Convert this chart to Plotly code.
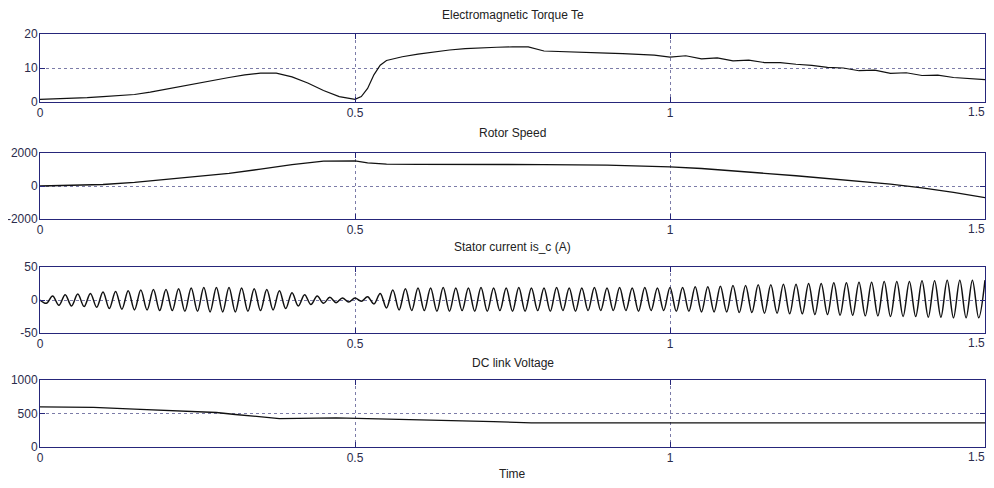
import plotly.graph_objects as go

# ---------------- data ----------------
torque_t = [0, 0.025, 0.05, 0.075, 0.1, 0.125, 0.15, 0.175, 0.2, 0.225, 0.25, 0.275,
            0.3, 0.325, 0.35, 0.375, 0.4, 0.425, 0.45, 0.475, 0.5, 0.51, 0.52, 0.53,
            0.54, 0.55, 0.575, 0.6, 0.625, 0.65, 0.675, 0.7, 0.725, 0.75, 0.775, 0.8,
            0.825, 0.85, 0.875, 0.9, 0.925, 0.95, 0.975, 1.0, 1.025, 1.05, 1.075, 1.1,
            1.125, 1.15, 1.175, 1.2, 1.225, 1.25, 1.275, 1.3, 1.325, 1.35, 1.375, 1.4,
            1.425, 1.45, 1.475, 1.5]
torque_te = [0.8, 0.9, 1.1, 1.3, 1.6, 1.9, 2.2, 2.9, 3.8, 4.6, 5.4, 6.3,
             7.2, 8.0, 8.5, 8.5, 7.4, 5.6, 3.4, 1.6, 0.8, 1.6, 4.0, 8.0,
             10.8, 12.2, 13.3, 14.1, 14.8, 15.3, 15.7, 16.0, 16.1, 16.2, 16.2, 15.0,
             14.9, 14.8, 14.5, 14.4, 14.2, 14.0, 13.8, 13.2, 13.6, 12.7, 13.0, 12.1,
             12.3, 11.6, 11.6, 11.1, 10.8, 10.2, 10.0, 9.2, 9.4, 8.4, 8.6, 7.8,
             7.9, 7.2, 7.0, 6.6]

speed_t = [0, 0.05, 0.1, 0.15, 0.2, 0.25, 0.3, 0.35, 0.4, 0.45, 0.5, 0.52, 0.55,
           0.6, 0.7, 0.8, 0.9, 0.95, 1.0, 1.05, 1.1, 1.15, 1.2, 1.25, 1.3, 1.35,
           1.4, 1.45, 1.5]
rotor_speed = [0, 30, 90, 220, 400, 550, 770, 1020, 1300, 1510, 1520, 1400, 1320,
               1310, 1320, 1300, 1260, 1210, 1160, 1060, 930, 770, 620, 450, 290, 110,
               -110, -380, -700]

# stator current: successive extrema (peak / trough), one every 0.01 s
current_t = [round(0.01 * i, 2) for i in range(151)]
stator_current = [
    0, -5, 6, -8, 8, -9, 9, -10, 10, -11,
    12, -13, 13, -14, 14, -15, 15, -15, 16, -16,
    16, -16, 17, -17, 18, -17, 19, -18, 19, -18,
    19, -18, 18, -17, 17, -16, 16, -15, 14, -13,
    11, -9, 8, -7, 6, -5, 4, -4, 3, -3,
    3, -2, 5, -6, 10, -12, 15, -15, 17, -16,
    18, -16, 18, -17, 19, -17, 18, -16, 18, -17,
    19, -17, 18, -16, 18, -17, 19, -17, 18, -16,
    18, -17, 19, -16, 18, -17, 18, -16, 19, -16,
    18, -16, 19, -16, 18, -17, 19, -16, 18, -16,
    19, -17, 19, -17, 20, -18, 20, -18, 21, -18,
    22, -19, 22, -19, 23, -20, 23, -20, 24, -21,
    24, -21, 25, -22, 25, -22, 26, -23, 26, -23,
    27, -24, 27, -24, 28, -25, 28, -25, 28, -25,
    29, -26, 29, -26, 30, -27, 30, -27, 30, -27,
    30,
]

dc_t = [0, 0.085, 0.15, 0.23, 0.28, 0.31, 0.36, 0.38, 0.47, 0.52, 0.57, 0.65,
        0.72, 0.78, 0.9, 1.2, 1.5]
dc_voltage = [600, 590, 565, 540, 515, 485, 450, 425, 435, 425, 410, 395,
              380, 360, 360, 360, 360]

titles = ["Electromagnetic Torque Te", "Rotor Speed", "Stator current is_c (A)",
          "DC link Voltage"]
x_ticks = [0, 0.5, 1, 1.5]
x_tick_labels = ["0", "0.5", "1", "1.5"]
y_ticks = [[0, 10, 20], [-2000, 0, 2000], [-50, 0, 50], [0, 500, 1000]]
y_tick_labels = [["0", "10", "20"], ["-2000", "0", "2000"], ["-50", "0", "50"],
                 ["0", "500", "1000"]]
y_ranges = [[0, 20], [-2000, 2000], [-50, 50], [0, 1000]]
x_label = "Time"

# ---------------- layout geometry ----------------
# the page body has an 8px margin, so the figure is placed at (8, 8);
# keep the page from overflowing vertically
OFF = 8
W, H = 994 - OFF, 488 - 2 * OFF
ML, MR = 40 - OFF, 9
MT = 34 - OFF
MB = (H + OFF) - 447
PH = H - MT - MB
panels_px = [(34, 102), (153, 219), (267, 333), (380, 447)]
title_px = [15, 133, 247, 363]


def py(p):
    return (H - MB - (p - OFF)) / PH


AX = "#26267a"
GRID = "#7c7ca8"
TXT = "#2c2c4c"
FONT = "Liberation Sans Narrow, Arial Narrow, Liberation Sans, Arial, sans-serif"
# the last x label sits at the window edge: it is drawn right-aligned to the axis end
x_tick_text = x_tick_labels[:-1] + [""]

fig = go.Figure()
series = [(torque_t, torque_te, "linear", 1.2), (speed_t, rotor_speed, "linear", 1.3),
          (current_t, stator_current, "spline", 1.5), (dc_t, dc_voltage, "linear", 1.3)]
for i, (xs, ys, shape, lw) in enumerate(series):
    sfx = "" if i == 0 else str(i + 1)
    fig.add_trace(go.Scatter(x=xs, y=ys, mode="lines", xaxis="x" + sfx, yaxis="y" + sfx,
                             line=dict(color="#111111", width=lw, shape=shape),
                             showlegend=False, hoverinfo="skip"))

layout = dict(width=W, height=H, margin=dict(l=ML, r=MR, t=MT, b=MB, autoexpand=False),
              paper_bgcolor="white", plot_bgcolor="white",
              font=dict(family=FONT, size=12, color=TXT), showlegend=False,
              annotations=[])
for i in range(4):
    sfx = "" if i == 0 else str(i + 1)
    top, bot = panels_px[i]
    layout["xaxis" + sfx] = dict(
        domain=[0, 1], anchor="y" + sfx, range=[0, 1.5], tickmode="array",
        tickvals=x_ticks, ticktext=x_tick_text, ticks="inside", ticklen=5,
        tickcolor=AX, showline=True, linecolor=AX, linewidth=1, mirror="ticks",
        showgrid=True, gridcolor=GRID, griddash="dot", gridwidth=1, zeroline=False,
        automargin=False, ticklabeloverflow="allow",
        tickfont=dict(family=FONT, size=12, color=TXT), fixedrange=True)
    layout["yaxis" + sfx] = dict(
        domain=[py(bot), py(top)], anchor="x" + sfx, range=y_ranges[i], tickmode="array",
        tickvals=y_ticks[i], ticktext=y_tick_labels[i], ticks="inside", ticklen=5,
        tickcolor=AX, showline=True, linecolor=AX, linewidth=1, mirror="ticks",
        showgrid=True, gridcolor=GRID, griddash="dot", gridwidth=1, zeroline=False,
        automargin=False, ticklabeloverflow="allow", ticklabelstandoff=-1,
        tickfont=dict(family=FONT, size=12, color=TXT), fixedrange=True)
    layout["annotations"].append(dict(
        text=titles[i], xref="paper", yref="paper", x=0.5, y=py(title_px[i]),
        xanchor="center", yanchor="middle", showarrow=False,
        font=dict(family=FONT, size=12, color="#222222")))
    layout["annotations"].append(dict(
        text=x_tick_labels[-1], xref="x" + sfx, yref="paper", x=x_ticks[-1],
        y=py(bot), xanchor="right", yanchor="top", yshift=-2, xshift=1,
        showarrow=False, borderpad=0,
        font=dict(family=FONT, size=12, color=TXT)))
layout["annotations"].append(dict(
    text=x_label, xref="paper", yref="paper", x=0.5, y=py(474), xanchor="center",
    yanchor="middle", showarrow=False, font=dict(family=FONT, size=12, color="#222222")))

fig.update_layout(**layout)
fig.write_html("out.html")
